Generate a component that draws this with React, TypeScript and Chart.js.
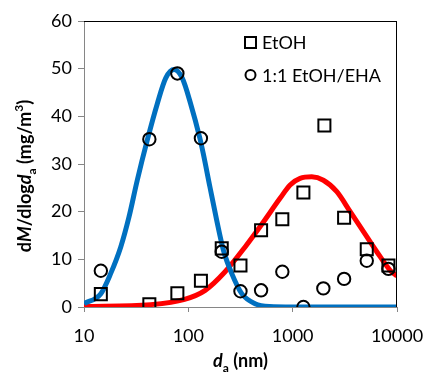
import React, { useEffect, useRef } from "react";
import { Chart, registerables } from "chart.js";
Chart.register(...registerables);

// ---- data ----
const etohDiameters = [14.5, 42.3, 78.5, 132, 209, 316, 498, 796, 1267, 2014, 3112, 5130, 8280];
const etohValues = [2.7, 0.6, 2.9, 5.5, 12.3, 8.7, 16.1, 18.4, 24.0, 38.1, 18.7, 12.1, 8.7];
const mixDiameters = [14.5, 42.3, 78.5, 132, 209, 316, 498, 796, 1267, 1968, 3112, 5130, 8280];
const mixValues = [7.6, 35.2, 49.0, 35.4, 11.6, 3.3, 3.5, 7.4, 0.0, 3.9, 5.9, 9.7, 8.0];

// fitted curves
const mixFitX = [10, 14.5, 18, 22.5, 27, 32.4, 40.4, 50.5, 60.7, 73, 87.5, 105, 129, 139, 161, 187, 217, 261, 325, 436, 600, 1000, 10000];
const mixFitY = [0.7, 2.8, 7.0, 12.6, 18.9, 26.6, 35.0, 42.7, 48.0, 49.8, 48.0, 42.7, 35.4, 32.2, 25.2, 18.2, 11.9, 7.0, 2.8, 0.7, 0.1, 0.0, 0.0];
const etohFitX = [10, 43.4, 92, 145, 225, 350, 500, 757, 945, 1178, 1524, 1970, 2650, 3560, 4770, 6400, 8590, 10000];
const etohFitY = [0.1, 0.5, 1.6, 3.5, 7.4, 12.6, 17.2, 22.8, 25.6, 27.0, 27.3, 26.6, 24.2, 20.0, 15.8, 11.6, 7.7, 6.5];

const xTicks = [10, 100, 1000, 10000];
const yMin = 0;
const yMax = 60;
const yStep = 10;
const seriesLabels = ["EtOH", "1:1 EtOH/EHA"];

const FONT = "Lato, 'Open Sans', sans-serif";

type Seg = { text: string; italic?: boolean; sub?: boolean; sup?: boolean };

function drawRich(ctx: CanvasRenderingContext2D, segs: Seg[], x: number, y: number, size: number) {
  const parts = segs.map((s) => {
    const fs = s.sub || s.sup ? Math.round(size * 0.66) : size;
    const font = `${s.italic ? "italic " : ""}bold ${fs}px ${FONT}`;
    ctx.font = font;
    return { ...s, font, w: ctx.measureText(s.text).width, dy: s.sub ? size * 0.28 : s.sup ? -size * 0.42 : 0 };
  });
  const total = parts.reduce((a, p) => a + p.w, 0);
  let cx = x - total / 2;
  ctx.textAlign = "left";
  ctx.textBaseline = "alphabetic";
  for (const p of parts) {
    ctx.font = p.font;
    ctx.fillText(p.text, cx, y + p.dy);
    cx += p.w;
  }
}

const decorPlugin = {
  id: "decor",
  afterDraw(chart: any) {
    const ctx: CanvasRenderingContext2D = chart.ctx;
    const a = chart.chartArea;
    ctx.save();
    // top & right frame
    ctx.strokeStyle = "#000";
    ctx.lineWidth = 1;
    ctx.beginPath();
    ctx.moveTo(a.left, Math.round(a.top) + 0.5);
    ctx.lineTo(a.right, Math.round(a.top) + 0.5);
    ctx.moveTo(Math.round(a.right) - 0.5, a.top);
    ctx.lineTo(Math.round(a.right) - 0.5, a.bottom);
    ctx.stroke();

    ctx.fillStyle = "#000";
    // x title
    drawRich(ctx, [{ text: "d", italic: true }, { text: "a", sub: true }, { text: " (nm)" }], (a.left + a.right) / 2, 367, 18);
    // y title
    ctx.save();
    ctx.translate(24, 176);
    ctx.rotate(-Math.PI / 2);
    drawRich(
      ctx,
      [
        { text: "d" },
        { text: "M", italic: true },
        { text: "/dlog" },
        { text: "d", italic: true },
        { text: "a", sub: true },
        { text: " (mg/m" },
        { text: "3", sup: true },
        { text: ")" },
      ],
      0,
      6.5,
      18
    );
    ctx.restore();

    // legend
    ctx.strokeStyle = "#000";
    ctx.lineWidth = 2;
    ctx.strokeRect(245, 37, 11, 11);
    ctx.beginPath();
    ctx.arc(250.5, 75, 5, 0, Math.PI * 2);
    ctx.stroke();
    ctx.font = `18px ${FONT}`;
    ctx.textAlign = "left";
    ctx.textBaseline = "middle";
    ctx.fillText(seriesLabels[0], 262, 43);
    ctx.fillText(seriesLabels[1], 262, 76);
    ctx.restore();
  },
};

export default function App() {
  const ref = useRef<HTMLCanvasElement | null>(null);
  useEffect(() => {
    if (!ref.current) return;
    const toPts = (xs: number[], ys: number[]) => xs.map((x, i) => ({ x, y: ys[i] }));
    const chart = new Chart(ref.current, {
      type: "scatter",
      data: {
        datasets: [
          {
            label: seriesLabels[0],
            data: toPts(etohDiameters, etohValues),
            pointStyle: "rect",
            pointRadius: 8.5,
            pointBorderWidth: 2,
            borderColor: "#000",
            backgroundColor: "rgba(0,0,0,0)",
            order: 0,
          },
          {
            label: seriesLabels[1],
            data: toPts(mixDiameters, mixValues),
            pointStyle: "circle",
            pointRadius: 6.2,
            pointBorderWidth: 2,
            borderColor: "#000",
            backgroundColor: "rgba(0,0,0,0)",
            order: 0,
          },
          {
            label: "fit mix",
            data: toPts(mixFitX, mixFitY),
            showLine: true,
            borderColor: "#0070C0",
            borderWidth: 5,
            pointRadius: 0,
            cubicInterpolationMode: "monotone",
            order: 1,
          },
          {
            label: "fit etoh",
            data: toPts(etohFitX, etohFitY),
            showLine: true,
            borderColor: "#FF0000",
            borderWidth: 5,
            pointRadius: 0,
            cubicInterpolationMode: "monotone",
            order: 2,
          },
        ] as any,
      },
      options: {
        animation: false,
        responsive: false,
        devicePixelRatio: 1,
        layout: { padding: { left: 0, top: 21, right: 29, bottom: 0 } },
        plugins: { legend: { display: false }, tooltip: { enabled: false }, title: { display: false } },
        scales: {
          x: {
            type: "logarithmic",
            min: 10,
            max: 10000,
            afterBuildTicks: (s: any) => {
              s.ticks = xTicks.map((v) => ({ value: v }));
            },
            afterFit: (s: any) => {
              s.height = 66;
              s.paddingLeft = 0;
              s.paddingRight = 0;
            },
            ticks: {
              callback: (v: any) => String(v),
              font: { family: FONT, size: 18 },
              color: "#000",
              padding: 13,
              maxRotation: 0,
            },
            grid: { drawOnChartArea: false, drawTicks: true, tickLength: 5, color: "#868686" },
            border: { color: "#868686", width: 1 },
          },
          y: {
            min: yMin,
            max: yMax,
            afterFit: (s: any) => {
              s.width = 84;
              s.paddingTop = 0;
              s.paddingBottom = 0;
            },
            ticks: {
              stepSize: yStep,
              font: { family: FONT, size: 18 },
              color: "#000",
              padding: 6,
            },
            grid: { drawOnChartArea: false, drawTicks: true, tickLength: 6, color: "#868686" },
            border: { color: "#868686", width: 1 },
          },
        },
      } as any,
      plugins: [decorPlugin],
    });
    return () => chart.destroy();
  }, []);
  return (
    <div style={{ position: "fixed", left: 0, top: 0, width: 426, height: 373, background: "#fff" }}>
      <canvas ref={ref} width={426} height={373} style={{ width: 426, height: 373 }} />
    </div>
  );
}
